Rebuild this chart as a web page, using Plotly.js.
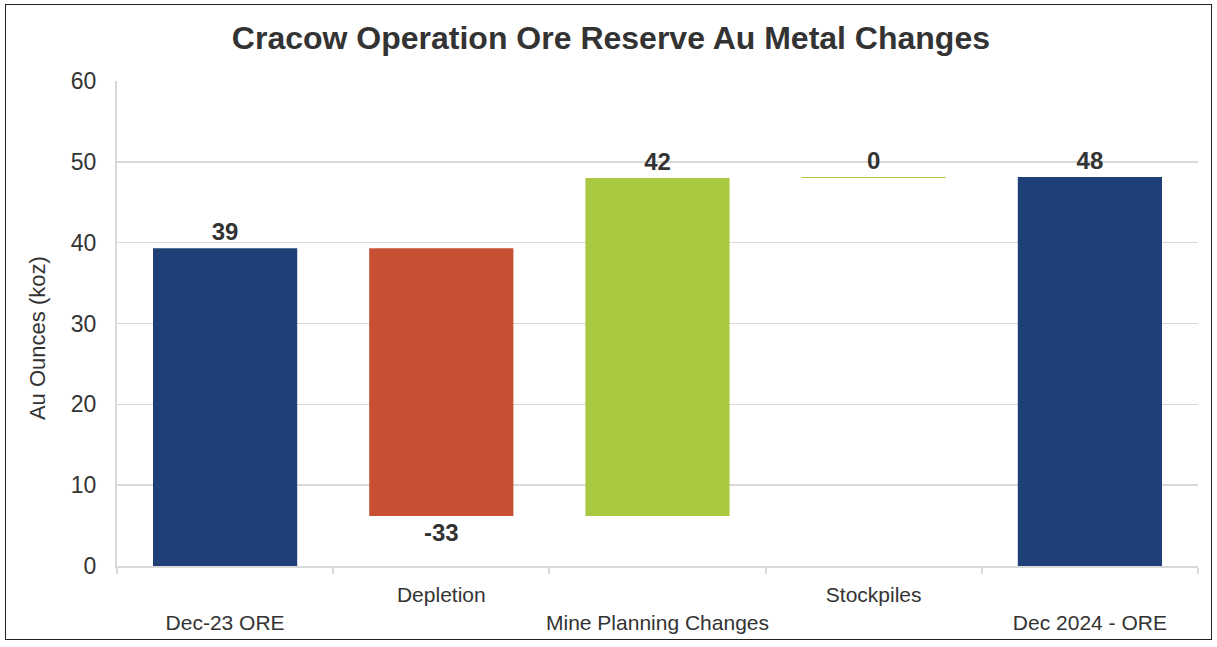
<!DOCTYPE html>
<html>
<head>
<meta charset="utf-8">
<script src="https://cdn.plot.ly/plotly-3.0.1.min.js"></script>
<style>
html,body{margin:0;padding:0;background:#fff;}
#wrap{position:relative;width:1217px;height:647px;}
#chart{width:1217px;height:647px;}
#frame{position:absolute;left:5px;top:4px;width:1205px;height:634px;border:1.5px solid #222;pointer-events:none;}
</style>
</head>
<body>
<div id="wrap"><div id="chart"></div><div id="frame"></div></div>
<script>
const categories = ['Dec-23 ORE', 'Depletion', 'Mine Planning Changes', 'Stockpiles', 'Dec 2024 - ORE'];
const measures = ['absolute', 'relative', 'relative', 'relative', 'total'];
const values = [39.3, -33.1, 41.8, 0.12, 0];
const valueLabels = ['39', '-33', '42', '0', '48'];
const tickLabels = ['<br>Dec-23 ORE', 'Depletion', '<br>Mine Planning Changes', 'Stockpiles', '<br>Dec 2024 - ORE'];

const FONT = 'Liberation Sans, Arial, sans-serif';

const trace = {
  type: 'waterfall',
  x: categories,
  y: values,
  measure: measures,
  text: valueLabels,
  textposition: 'outside',
  textfont: {family: FONT, size: 24, color: '#333333', weight: 'bold'},
  cliponaxis: false,
  connector: {visible: false},
  increasing: {marker: {color: '#A8C940'}},
  decreasing: {marker: {color: '#C75034'}},
  totals: {marker: {color: '#1F3F77'}},
  hoverinfo: 'x+y'
};

const layout = {
  width: 1217, height: 647,
  margin: {l: 117, r: 19, t: 81, b: 81},
  paper_bgcolor: '#ffffff', plot_bgcolor: '#ffffff',
  showlegend: false,
  waterfallgap: 0.333,
  font: {family: FONT, color: '#333333'},
  title: {
    text: '<b>Cracow Operation Ore Reserve Au Metal Changes</b>',
    font: {family: FONT, size: 32, color: '#333333'},
    x: 0.502, xref: 'container', y: 0.942, yref: 'container', xanchor: 'center', yanchor: 'middle'
  },
  xaxis: {
    type: 'category',
    tickmode: 'array', tickvals: categories, ticktext: tickLabels,
    tickangle: 0,
    tickson: 'boundaries', ticks: 'outside', ticklen: 6, tickcolor: '#d9d9d9', tickwidth: 2,
    showline: true, linecolor: '#d9d9d9', linewidth: 2,
    showgrid: false, zeroline: false,
    tickfont: {size: 21, color: '#333333'},
    ticklabelstandoff: 9,
    fixedrange: true
  },
  yaxis: {
    range: [0, 60], dtick: 10,
    showgrid: true, gridcolor: '#d9d9d9', gridwidth: 1.5,
    showline: true, linecolor: '#d9d9d9', linewidth: 2,
    zeroline: false,
    ticks: '', tickfont: {size: 23, color: '#333333'},
    ticklabelstandoff: 14,
    fixedrange: true
  },
  annotations: [{
    text: 'Au Ounces (koz)', textangle: -90,
    xref: 'paper', yref: 'paper', x: -0.0740, y: 0.470,
    xanchor: 'center', yanchor: 'middle', showarrow: false,
    font: {family: FONT, size: 22, color: '#333333'}
  }]
};

Plotly.newPlot('chart', [trace], layout, {displayModeBar: false, staticPlot: true});
</script>
</body>
</html>
